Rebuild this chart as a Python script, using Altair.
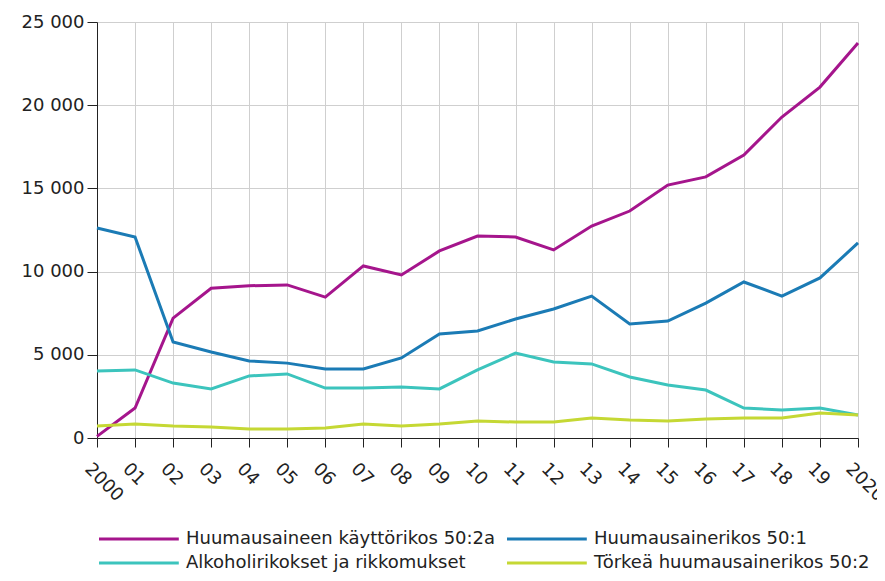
import altair as alt
import pandas as pd

years = list(range(2000, 2021))
series_names = [
    "Huumausaineen käyttörikos 50:2a",
    "Huumausainerikos 50:1",
    "Alkoholirikokset ja rikkomukset",
    "Törkeä huumausainerikos 50:2",
]
kaytto = [100, 1800, 7200, 9000, 9150, 9200, 8470, 10340, 9800, 11240, 12140,
          12080, 11300, 12740, 13640, 15200, 15690, 17000, 19290, 21090, 23740]
huume = [12620, 12080, 5770, 5170, 4630, 4500, 4150, 4150, 4810, 6250, 6430,
         7150, 7750, 8530, 6850, 7030, 8110, 9375, 8530, 9620, 11720]
alko = [4030, 4090, 3300, 2950, 3730, 3850, 3000, 3000, 3060, 2950, 4090,
        5100, 4570, 4450, 3670, 3190, 2880, 1800, 1680, 1800, 1380]
torkea = [720, 840, 720, 660, 540, 540, 600, 840, 720, 840, 1020,
          960, 960, 1200, 1080, 1020, 1140, 1200, 1200, 1500, 1380]
colors = ["#a5158c", "#1b7bb5", "#3cc4bd", "#c5d834"]
y_ticks = [0, 5000, 10000, 15000, 20000, 25000]

rows = []
for name, vals in zip(series_names, [kaytto, huume, alko, torkea]):
    for yr, v in zip(years, vals):
        rows.append({"Vuosi": yr, "Sarja": name, "Arvo": v})
df = pd.DataFrame(rows)

font = "DejaVu Sans"

chart = alt.Chart(df).mark_line(strokeWidth=3).encode(
    x=alt.X("Vuosi:Q",
            scale=alt.Scale(domain=[2000, 2020], nice=False, zero=False),
            axis=alt.Axis(
                values=years, title=None, grid=True, gridColor="#cfcfcf",
                domainColor="#222222", tickColor="#222222", tickSize=9,
                labelAngle=45, labelAlign="left", labelBaseline="middle",
                labelPadding=19, labelOffset=-10, labelFlush=False,
                labelOverlap=False, labelBound=False,
                labelFont=font, labelFontSize=18, labelColor="#222222",
                labelExpr="(datum.value==2000||datum.value==2020) ? ''+datum.value : substring(''+datum.value, 2)",
            )),
    y=alt.Y("Arvo:Q",
            scale=alt.Scale(domain=[0, 25000], nice=False),
            axis=alt.Axis(
                values=y_ticks, title=None, grid=True, gridColor="#cfcfcf",
                domainColor="#222222", tickColor="#222222", tickSize=10,
                labelPadding=3, labelFont=font, labelFontSize=18,
                labelColor="#222222",
                labelExpr="replace(format(datum.value, ','), ',', ' ')",
            )),
    color=alt.Color("Sarja:N",
                    scale=alt.Scale(domain=series_names, range=colors),
                    sort=series_names,
                    legend=alt.Legend(
                        title=None, orient="none", legendX=-9, legendY=506,
                        columns=2, direction="horizontal",
                        symbolType="M0,0H8.4", symbolSize=361,
                        symbolStrokeWidth=3, labelOffset=76,
                        columnPadding=-9, rowPadding=4,
                        labelFont=font, labelFontSize=18,
                        labelColor="#222222", labelLimit=400,
                    )),
    order=alt.Order("Sarja:N"),
).properties(
    width=761, height=416,
    autosize=alt.AutoSizeParams(type="none"),
    padding={"left": 89, "top": 14, "right": 19, "bottom": 135},
).configure_view(stroke=None)

chart.save("out.html", embed_options={"renderer": "svg", "actions": False})
